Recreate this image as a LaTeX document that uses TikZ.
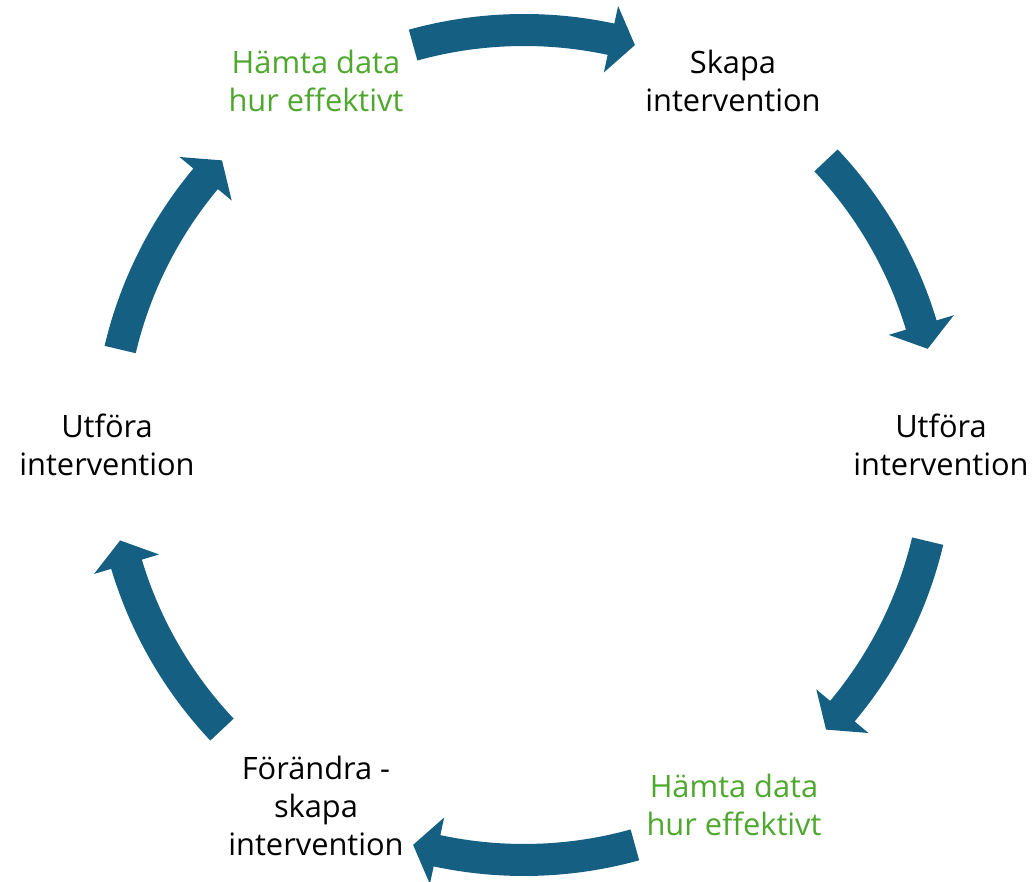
\documentclass[tikz,border=0pt]{standalone}
\usepackage{fontspec}
\setmainfont{Open Sans}
\definecolor{arrowblue}{HTML}{156082}
\definecolor{txtgreen}{HTML}{4EA72E}
\tikzset{
  lbl/.style={align=center, inner sep=0pt, font=\fontsize{30.8}{38}\selectfont, text=black},
  greenlbl/.style={lbl, text=txtgreen},
  blockarrow/.style={fill=arrowblue, draw=none}
}
% #1 tail angle, #2 tip angle
\newcommand{\cyclearrow}[2]{%
  \fill[blockarrow] (#1:431) arc[start angle=#1, end angle=#2+3.4, radius=431]
    -- (#2+3.4:449) -- (#2:415) -- (#2+3.4:381) -- (#2+3.4:399)
    arc[start angle=#2+3.4, end angle=#1, radius=399] -- cycle;}
\begin{document}
\begin{tikzpicture}[x=1pt, y=1pt]
\useasboundingbox (0,0) rectangle (1033,882);
\begin{scope}[shift={(524,437)}]
  \coordinate (c) at (0,0);
  \node[greenlbl] (tl) at (-208,364) {Hämta data\\hur effektivt};
  \node[lbl] (tr) at (209,364) {Skapa\\intervention};
  \node[lbl] (r) at (417,0) {Utföra\\intervention};
  \node[greenlbl] (br) at (210,-360) {Hämta data\\hur effektivt};
  \node[lbl] (bl) at (-208,-361) {Förändra -\\skapa\\intervention};
  \node[lbl] (l) at (-417,0) {Utföra\\intervention};
  \cyclearrow{105.5}{74.5}
  \cyclearrow{43.3}{13.4}
  \cyclearrow{-13.4}{-43.3}
  \cyclearrow{-74.5}{-105.5}
  \cyclearrow{223.3}{193.3}
  \cyclearrow{166.7}{136.7}
\end{scope}
\end{tikzpicture}
\end{document}
